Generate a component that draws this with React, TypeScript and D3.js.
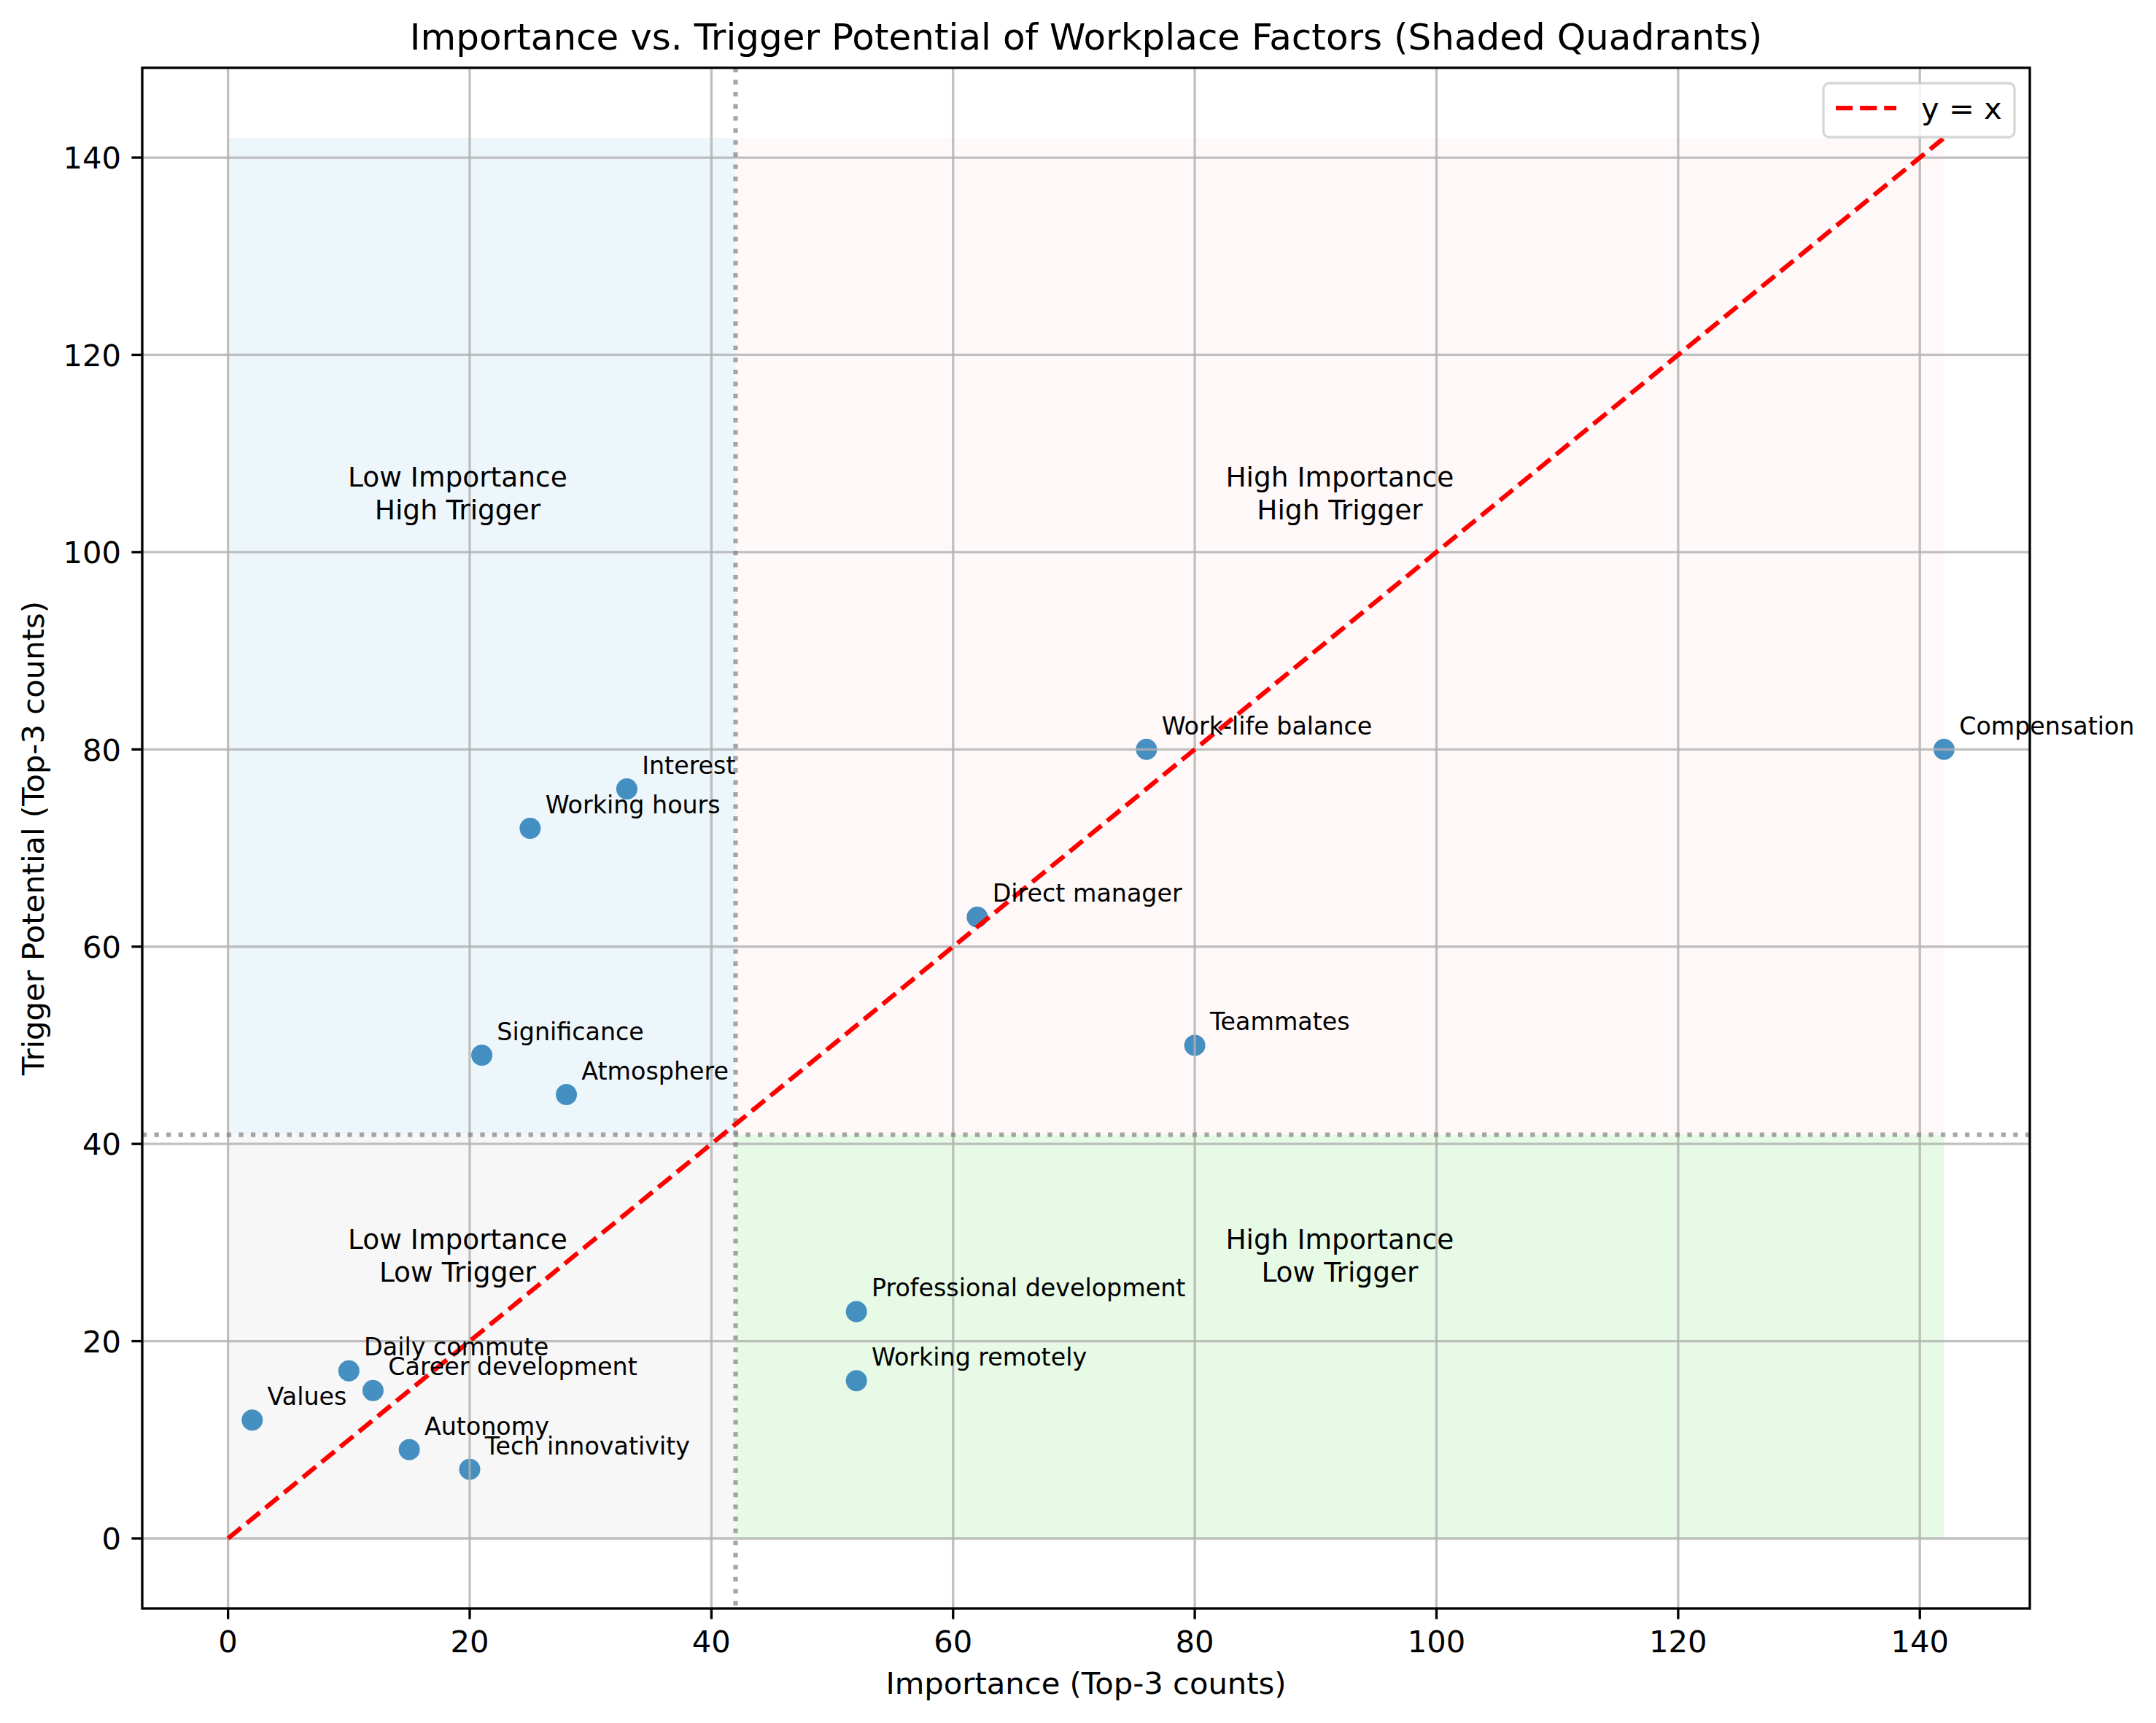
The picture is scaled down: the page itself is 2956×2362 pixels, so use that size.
import { useEffect, useRef } from "react";
import * as d3 from "d3";

// factor names and their top-3 counts
const factors = [
  "Compensation", "Work-life balance", "Interest", "Working hours", "Direct manager",
  "Teammates", "Significance", "Atmosphere", "Professional development", "Working remotely",
  "Daily commute", "Career development", "Values", "Autonomy", "Tech innovativity",
];
const importance = [142, 76, 33, 25, 62, 80, 21, 28, 52, 52, 10, 12, 2, 15, 20];
const trigger = [80, 80, 76, 72, 63, 50, 49, 45, 23, 16, 17, 15, 12, 9, 7];

const xTicks = [0, 20, 40, 60, 80, 100, 120, 140];
const yTicks = [0, 20, 40, 60, 80, 100, 120, 140];

const quadrantNames = [
  ["Low Importance", "High Trigger"],
  ["High Importance", "High Trigger"],
  ["Low Importance", "Low Trigger"],
  ["High Importance", "Low Trigger"],
];
const quadrantColors = ["#edf6fb", "#fff8f8", "#f7f7f7", "#e6fae6"];

const W = 2956, H = 2362;
const FONT = "DejaVu Sans";

export default function App() {
  const ref = useRef<SVGSVGElement>(null);

  useEffect(() => {
    if (!ref.current) return;
    document.body.style.margin = "0";
    const svg = d3.select(ref.current);
    svg.selectAll("*").remove();

    const left = 195, right = 2783, top = 93, bottom = 2205;
    const pts = factors.map((f, i) => ({ name: f, x: importance[i], y: trigger[i] }));
    const maxV = d3.max([...importance, ...trigger])!;
    const pad = maxV * 0.05;
    const thrX = d3.mean(importance)!;
    const thrY = d3.mean(trigger)!;

    const x = d3.scaleLinear().domain([-pad, maxV + pad]).range([left, right]);
    const y = d3.scaleLinear().domain([-pad, maxV + pad]).range([bottom, top]);

    svg.append("rect").attr("width", W).attr("height", H).attr("fill", "#fff");

    // shaded quadrants
    const quads = [
      [0, thrX, thrY, maxV],
      [thrX, maxV, thrY, maxV],
      [0, thrX, 0, thrY],
      [thrX, maxV, 0, thrY],
    ];
    svg.append("g").selectAll("rect").data(quads).join("rect")
      .attr("x", d => x(d[0])).attr("width", d => x(d[1]) - x(d[0]))
      .attr("y", d => y(d[3])).attr("height", d => y(d[2]) - y(d[3]))
      .attr("fill", (_, i) => quadrantColors[i]);

    // points
    svg.append("g").selectAll("circle").data(pts).join("circle")
      .attr("cx", d => x(d.x)).attr("cy", d => y(d.y)).attr("r", 14.5)
      .attr("fill", "#1f77b4").attr("fill-opacity", 0.82);

    // grid
    const grid = svg.append("g").attr("stroke", "#b0b0b0").attr("stroke-opacity", 0.8)
      .attr("stroke-width", 3.3);
    grid.selectAll(".gx").data(xTicks).join("line").attr("class", "gx")
      .attr("x1", d => x(d)).attr("x2", d => x(d)).attr("y1", top).attr("y2", bottom);
    grid.selectAll(".gy").data(yTicks).join("line").attr("class", "gy")
      .attr("y1", d => y(d)).attr("y2", d => y(d)).attr("x1", left).attr("x2", right);

    // mean lines
    const thr = svg.append("g").attr("stroke", "#808080").attr("stroke-opacity", 0.7)
      .attr("stroke-width", 6.25).attr("stroke-dasharray", "6.25,10.3");
    thr.append("line").attr("x1", x(thrX)).attr("x2", x(thrX)).attr("y1", top).attr("y2", bottom);
    thr.append("line").attr("y1", y(thrY)).attr("y2", y(thrY)).attr("x1", left).attr("x2", right);

    // y = x
    const line = d3.line<number>().x(d => x(d)).y(d => y(d));
    svg.append("path").attr("d", line([0, maxV])!).attr("fill", "none")
      .attr("stroke", "#ff0000").attr("stroke-width", 6.25).attr("stroke-dasharray", "23.1,10");

    // quadrant labels
    const qPos = [[19, 106], [92, 106], [19, 28.7], [92, 28.7]];
    quadrantNames.forEach((lines, i) => {
      const t = svg.append("text").attr("text-anchor", "middle")
        .attr("font-family", FONT).attr("font-size", 37.5).attr("fill", "#000");
      lines.forEach((s, k) => {
        t.append("tspan").attr("x", x(qPos[i][0])).attr("y", y(qPos[i][1]) - 9 + k * 45).text(s);
      });
    });

    // annotations
    svg.append("g").selectAll("text").data(pts).join("text")
      .attr("x", d => x(d.x) + 20.8).attr("y", d => y(d.y) - 20.8)
      .attr("font-family", FONT).attr("font-size", 33.3).attr("fill", "#000")
      .text(d => d.name);

    // spines
    svg.append("rect").attr("x", left).attr("y", top)
      .attr("width", right - left).attr("height", bottom - top)
      .attr("fill", "none").attr("stroke", "#000").attr("stroke-width", 3.33);

    // ticks
    const ax = svg.append("g").attr("font-family", FONT).attr("font-size", 41.7);
    ax.selectAll(".tx").data(xTicks).join("line").attr("class", "tx")
      .attr("x1", d => x(d)).attr("x2", d => x(d)).attr("y1", bottom).attr("y2", bottom + 14.6)
      .attr("stroke", "#000").attr("stroke-width", 3.33);
    ax.selectAll(".lx").data(xTicks).join("text").attr("class", "lx")
      .attr("x", d => x(d)).attr("y", 2265).attr("text-anchor", "middle").text(d => d);
    ax.selectAll(".ty").data(yTicks).join("line").attr("class", "ty")
      .attr("y1", d => y(d)).attr("y2", d => y(d)).attr("x1", left).attr("x2", left - 14.6)
      .attr("stroke", "#000").attr("stroke-width", 3.33);
    ax.selectAll(".ly").data(yTicks).join("text").attr("class", "ly")
      .attr("x", 166).attr("y", d => y(d) + 15.2).attr("text-anchor", "end").text(d => d);

    // axis labels and title
    ax.append("text").attr("x", (left + right) / 2).attr("y", 2322)
      .attr("text-anchor", "middle").text("Importance (Top-3 counts)");
    ax.append("text").attr("transform", `translate(60,${(top + bottom) / 2}) rotate(-90)`)
      .attr("text-anchor", "middle").text("Trigger Potential (Top-3 counts)");
    svg.append("text").attr("x", (left + right) / 2).attr("y", 68)
      .attr("text-anchor", "middle").attr("font-family", FONT).attr("font-size", 50)
      .text("Importance vs. Trigger Potential of Workplace Factors (Shaded Quadrants)");

    // legend
    const lg = svg.append("g");
    lg.append("rect").attr("x", 2500).attr("y", 114).attr("width", 262).attr("height", 74)
      .attr("rx", 8).attr("fill", "#fff").attr("fill-opacity", 0.8)
      .attr("stroke", "#cccccc").attr("stroke-opacity", 0.8).attr("stroke-width", 3.3);
    lg.append("line").attr("x1", 2517).attr("x2", 2600).attr("y1", 148).attr("y2", 148)
      .attr("stroke", "#ff0000").attr("stroke-width", 6.25).attr("stroke-dasharray", "23.1,10");
    lg.append("text").attr("x", 2634).attr("y", 163).attr("font-family", FONT)
      .attr("font-size", 41.7).text("y = x");
  }, []);

  return <svg ref={ref} width={W} height={H} style={{ display: "block" }} />;
}
